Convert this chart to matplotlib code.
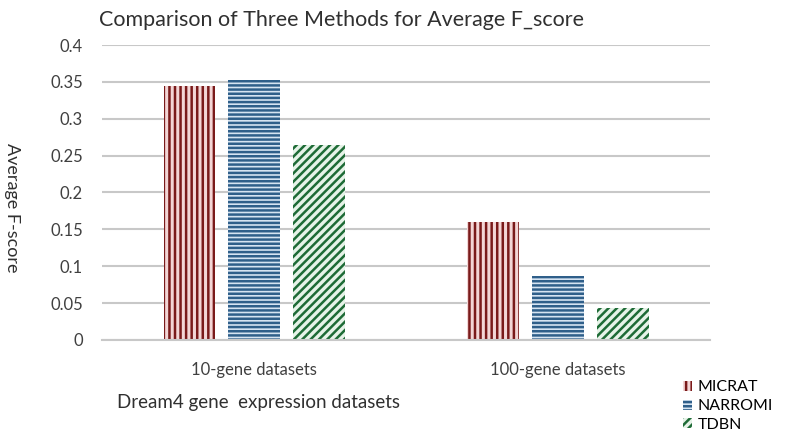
import numpy as np
import matplotlib
matplotlib.use("Agg")
import matplotlib.pyplot as plt

categories = ["10-gene datasets", "100-gene datasets"]
methods = ["MICRAT", "NARROMI", "TDBN"]
micrat = [0.345, 0.160]
narromi = [0.352, 0.087]
tdbn = [0.265, 0.043]

plt.rcParams['font.family'] = ['Lato', 'DejaVu Sans']
plt.rcParams['hatch.linewidth'] = 1.8

fig = plt.figure(figsize=(7.87, 4.42), dpi=100)
ax = fig.add_axes([0.13, 0.231, 0.772, 0.667])

x = np.arange(len(categories))
w = 0.17
step = 0.213
styles = [
    (micrat, "|||", "#7a1a1a", "#f3d6d6"),
    (narromi, "----", "#2f5f8a", "#d6e4f2"),
    (tdbn, "////", "#1e6b36", "#e6f3e8"),
]
handles = []
for i, (vals, hatch, ec, fc) in enumerate(styles):
    b = ax.bar(x + (i - 1) * step, vals, w, facecolor=fc, edgecolor=ec,
               hatch=hatch, linewidth=0, label=methods[i])
    handles.append(b)

ax.set_xlim(-0.5, 1.5)
ax.set_ylim(0, 0.4)
ax.set_yticks(np.arange(0, 0.401, 0.05))
ax.set_yticklabels(["0", "0.05", "0.1", "0.15", "0.2", "0.25", "0.3", "0.35", "0.4"])
ax.set_xticks(x)
ax.set_xticklabels(categories)
ax.grid(axis="y", color="#c8c8c8", linewidth=1.5)
ax.set_axisbelow(True)
for s in ["top", "right", "left"]:
    ax.spines[s].set_visible(False)
ax.spines["bottom"].set_color("#c8c8c8")
ax.spines["bottom"].set_linewidth(1.5)
ax.tick_params(length=0, labelsize=12, colors="#404040")
ax.tick_params(axis="y", pad=14)
ax.tick_params(axis="x", pad=16)

ax.set_title("Comparison of Three Methods for Average F_score", fontsize=15.5,
             loc="left", x=-0.005, y=1.035, color="#303030")
fig.text(0.015, 0.53, "Average F-score", rotation=-90, fontsize=13,
         ha="center", va="center", color="#303030")
fig.text(0.328, 0.09, "Dream4 gene  expression datasets", fontsize=13.5,
         ha="center", va="center", color="#303030")

fig.legend(handles=handles, loc="lower right", bbox_to_anchor=(1.0, -0.01),
           frameon=False, fontsize=11.5, handlelength=0.6, handleheight=0.6,
           handletextpad=0.3, labelspacing=0.3)

fig.savefig("out.png", dpi=100)
